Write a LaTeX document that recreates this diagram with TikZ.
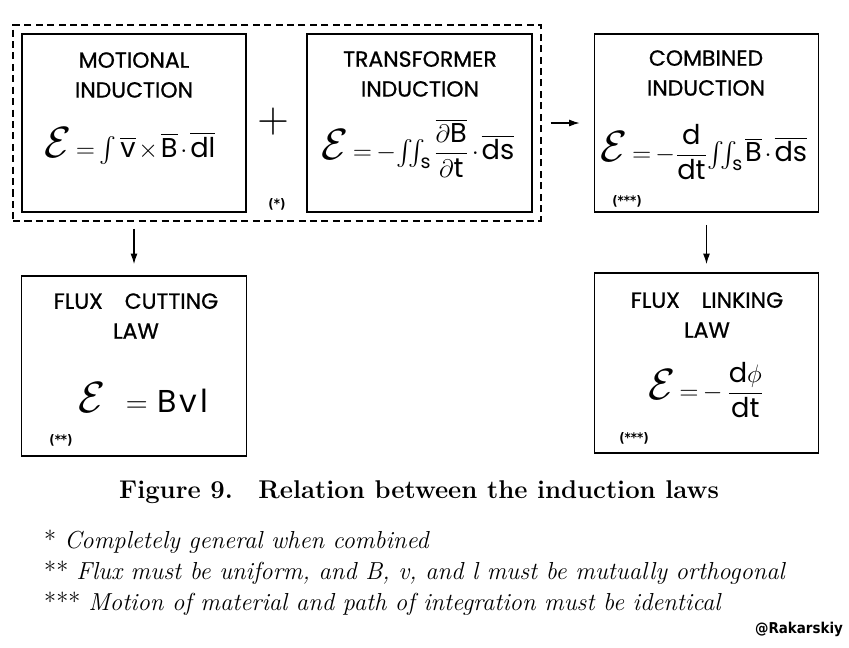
\documentclass[tikz,border=0pt]{standalone}
\usepackage{amsmath}
\usepackage{fontspec}
\newfontfamily\letterfont{Poppins}[FakeBold=0.8]
\newfontfamily\formfont{Poppins}
\newfontfamily\tagfont{DejaVu Sans Condensed}
\usetikzlibrary{arrows.meta,fit}
\newcommand\emf{\mbox{\fontsize{25}{25}\selectfont$\mathcal{E}$}}
\newcommand\tightmath{\thickmuskip=3mu\relax\medmuskip=2mu\relax\thinmuskip=1.5mu\relax}
\tikzset{
  law/.style={draw, line width=1.1pt, minimum width=4.48cm, minimum height=3.56cm, inner sep=0pt},
  head/.style={font=\letterfont\fontsize{12.5}{17}\selectfont, align=center},
  formula/.style={font=\formfont\fontsize{15.5}{20}\selectfont, execute at begin node=\tightmath},
  starnote/.style={font=\tagfont\bfseries\fontsize{7.5}{8}\selectfont},
  flow/.style={-{Latex[length=6pt,width=4pt]}, line width=0.6pt},
}
\begin{document}
\begin{tikzpicture}[x=0.02cm, y=-0.02cm]
\useasboundingbox (0,0) rectangle (849,647);
% the four induction laws
\node[law] (motional) at (134,123) {};
\node[law, minimum width=4.5cm] (transformer) at (419.5,123) {};
\node[law] (combined) at (706.5,123) {};
\node[law, minimum width=4.5cm, minimum height=3.6cm] (cutting) at (134,366) {};
\node[law, minimum height=3.6cm] (linking) at (706.5,363) {};
\node[head] at (134,75) {MOTIONAL\\INDUCTION};
\node[head] at (420,74) {TRANSFORMER\\INDUCTION};
\node[head] at (706,73) {COMBINED\\INDUCTION};
\node[head] at (136,316) {FLUX\quad CUTTING\\LAW};
\node[head] at (707,315) {FLUX\quad LINKING\\LAW};
\node[formula] at (130,146) {$\emf=\int\,\overline{\text{v}}\times\overline{\text{B}}\cdot\overline{\text{dl}}$};
\node[formula] at (418,148) {$\emf=-\!\int\!\!\!\int_{\text{s}}\dfrac{\overline{\partial\text{B}}}{\partial\text{t}}\cdot\overline{\text{ds}}$};
\node[formula] at (704,152) {$\emf=-\dfrac{\text{d}}{\text{dt}}\!\int\!\!\!\int_{\text{s}}\overline{\text{B}}\cdot\overline{\text{ds}}$};
\node[formula, font=\formfont\fontsize{18}{20}\selectfont] at (143,398) {$\emf\enskip=\;\text{B}\,\text{v}\,\text{l}$};
\node[formula] at (706,390) {$\emf=-\;\dfrac{\text{d}\phi}{\text{dt}}$};
\node[starnote] at (277,204) {(*)};
\node[starnote] at (61,440) {(**)};
\node[starnote] at (627,201) {(***)};
\node[starnote] at (634,438) {(***)};
\node[font=\fontsize{24}{24}\selectfont] (plus) at (273,122) {$+$};
% dashed frame round the two halves
\node[fit=(motional)(transformer), draw, line width=0.7pt, dash pattern=on 4pt off 2.5pt, inner sep=0.16cm] (general) {};
\draw[flow, shorten <=0.18cm, shorten >=0.28cm] (general) -- (combined);
\draw[flow, shorten <=0.32cm, shorten >=0.22cm] (motional) -- (cutting);
\draw[flow, shorten <=0.24cm, shorten >=0.16cm] (combined) -- (linking);
% caption and notes
\node[font=\bfseries\fontsize{14.6}{17}\selectfont] (caption) at (419,492) {Figure 9.\quad Relation between the induction laws};
\node[anchor=west, align=left, font=\fontsize{14}{17.6}\selectfont] (notes) at (38,573) {*~\textit{Completely general when combined}\\
**~\textit{Flux must be uniform, and B, v, and l must be mutually orthogonal}\\
***~\textit{Motion of material and path of integration must be identical}};
\node[font=\tagfont\bfseries\fontsize{8.5}{10}\selectfont] (tag) at (799,629) {@Rakarskiy};
\end{tikzpicture}
\end{document}
